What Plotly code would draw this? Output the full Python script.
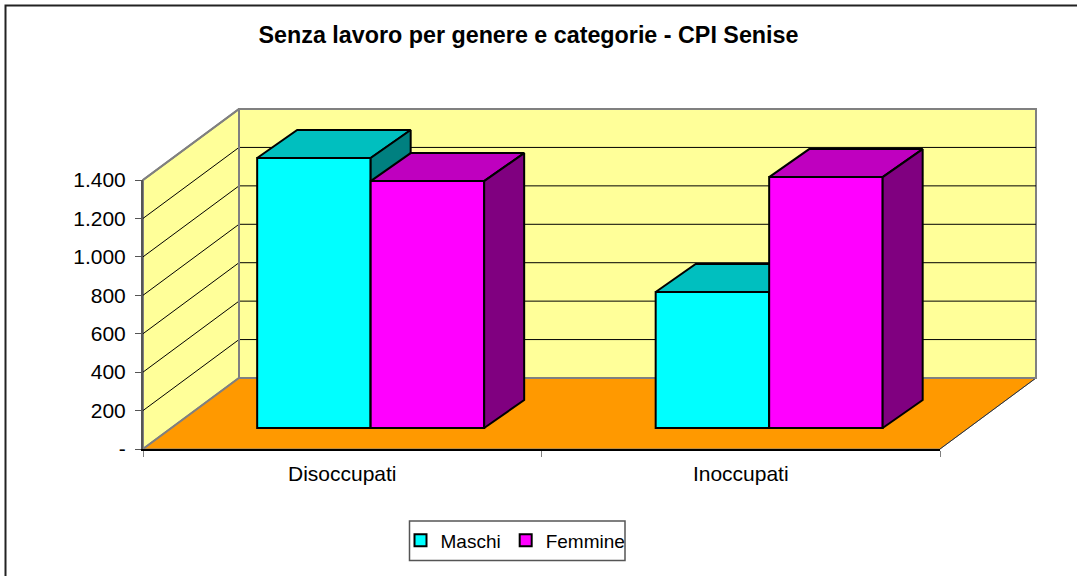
import plotly.graph_objects as go

# ---- data ----
categories = ["Disoccupati", "Inoccupati"]
maschi = [1405, 708]
femmine = [1285, 1306]
y_tick_values = [0, 200, 400, 600, 800, 1000, 1200, 1400]
y_tick_labels = ["-", "200", "400", "600", "800", "1.000", "1.200", "1.400"]
series_names = ["Maschi", "Femmine"]
title_text = "Senza lavoro per genere e categorie - CPI Senise"

# ---- styles / projection ----
W, H = 1077, 576
X0_PX, X1_PX = 143, 940      # front floor edge
Y0_PX, YT_PX = 449, 180      # value 0 and 1400 on the front-left edge
PX_PER_CAT = (X1_PX - X0_PX) / len(categories)
PX_PER_VAL = (Y0_PX - YT_PX) / 1400
XR = [-X0_PX / PX_PER_CAT, (W - X0_PX) / PX_PER_CAT]
YR = [-(H - Y0_PX) / PX_PER_VAL, Y0_PX / PX_PER_VAL]

WALL_DX, WALL_DV = 96 / PX_PER_CAT, 71 / PX_PER_VAL      # depth of the floor
BAR_SV = 21 / PX_PER_VAL                                  # bars' front offset
BAR_DX, BAR_DV = 40 / PX_PER_CAT, 28 / PX_PER_VAL        # bars' depth
BAR_W = 113.5 / PX_PER_CAT
BAR_START = 0.2865

FONT = "Liberation Sans, Arial, sans-serif"
WALL, FLOOR, EDGE = "#FFFF99", "#FF9900", "#808080"
COLORS = [("#00FFFF", "#00BFBF", "#008080"), ("#FF00FF", "#BF00BF", "#800080")]

fig = go.Figure()


def poly(xs, ys, fill, line, width, axes):
    fig.add_trace(go.Scatter(
        x=xs, y=ys, mode="lines", fill="toself" if fill else None, fillcolor=fill,
        line=dict(color=line, width=width), showlegend=False, hoverinfo="skip",
        xaxis=axes[0], yaxis=axes[1],
    ))


n = len(categories)
vmax = y_tick_values[-1]
A = ("x", "y")
# back wall, left wall, floor
poly([WALL_DX, n + WALL_DX, n + WALL_DX, WALL_DX, WALL_DX],
     [WALL_DV, WALL_DV, vmax + WALL_DV, vmax + WALL_DV, WALL_DV], WALL, EDGE, 2, A)
poly([0, WALL_DX, WALL_DX, 0, 0], [0, WALL_DV, vmax + WALL_DV, vmax, 0], WALL, EDGE, 2, A)
poly([0, n, n + WALL_DX, WALL_DX, 0], [0, 0, WALL_DV, WALL_DV, 0], FLOOR, EDGE, 1, A)
poly([n, n + WALL_DX], [0, WALL_DV], None, "#303030", 1, A)
# gridlines
for v in y_tick_values[1:-1]:
    poly([0, WALL_DX, n + WALL_DX], [v, v + WALL_DV, v + WALL_DV], None, "#000000", 1, A)
poly([0, WALL_DX, n + WALL_DX], [vmax, vmax + WALL_DV, vmax + WALL_DV], None, EDGE, 2, A)
poly([WALL_DX, WALL_DX], [WALL_DV, vmax + WALL_DV], None, EDGE, 2, A)
poly([0, WALL_DX, n + WALL_DX], [0, WALL_DV, WALL_DV], None, EDGE, 2, A)

# bars, one subplot per series so that the second sits in front of the first
for s, (name, vals) in enumerate(zip(series_names, [maschi, femmine])):
    ax = (f"x{s + 2}", f"y{s + 2}")
    front, top, side = COLORS[s]
    lefts = [i + BAR_START + s * BAR_W for i in range(n)]
    for xl, v in zip(lefts, vals):
        yb, yt = BAR_SV, BAR_SV + v
        xr = xl + BAR_W
        poly([xl, xr, xr + BAR_DX, xl + BAR_DX, xl],
             [yt, yt, yt + BAR_DV, yt + BAR_DV, yt], top, "#000000", 2, ax)
        poly([xr, xr + BAR_DX, xr + BAR_DX, xr, xr],
             [yb, yb + BAR_DV, yt + BAR_DV, yt, yb], side, "#000000", 2, ax)
    fig.add_trace(go.Bar(
        x=[xl + BAR_W / 2 for xl in lefts], y=vals, base=[BAR_SV] * n, width=[BAR_W] * n,
        name=name, marker=dict(color=front, line=dict(color="#000000", width=2)),
        hoverinfo="skip", xaxis=ax[0], yaxis=ax[1],
    ))

# real axes with ticks and labels on top
fig.add_trace(go.Scatter(x=[None], y=[None], showlegend=False, hoverinfo="skip",
                         xaxis="x4", yaxis="y4"))

hidden = dict(visible=False, fixedrange=True)
layout_axes = {}
for i in ("", "2", "3"):
    layout_axes["xaxis" + i] = dict(hidden, range=XR, domain=[0, 1], anchor="y" + i)
    layout_axes["yaxis" + i] = dict(hidden, range=YR, domain=[0, 1], anchor="x" + i)

fig.update_layout(
    **layout_axes,
    xaxis4=dict(
        domain=[X0_PX / W, X1_PX / W], range=[0, n], anchor="y4",
        tickmode="array", tickvals=[i + 0.5 for i in range(n)], ticktext=categories,
        ticks="", showgrid=False, zeroline=False, ticklabelstandoff=5,
        showline=True, linecolor="#000000", linewidth=1.5,
        minor=dict(tickmode="array", tickvals=list(range(n + 1)), ticks="outside",
                   ticklen=6, tickcolor="#808080", tickwidth=1, showgrid=False),
        tickfont=dict(family=FONT, size=21, color="#000000"),
    ),
    yaxis4=dict(
        domain=[(H - Y0_PX) / H, (H - YT_PX) / H], range=[0, vmax], anchor="x4",
        tickmode="array", tickvals=y_tick_values, ticktext=y_tick_labels,
        ticks="outside", ticklen=6, tickcolor="#555555", tickwidth=1, ticklabelstandoff=5,
        showgrid=False, zeroline=False, showline=True, linecolor="#555555", linewidth=2,
        tickfont=dict(family=FONT, size=21, color="#000000"),
    ),
    barmode="overlay",
    width=W, height=H, autosize=False,
    margin=dict(l=0, r=0, t=0, b=0, autoexpand=False),
    paper_bgcolor="#FFFFFF", plot_bgcolor="rgba(0,0,0,0)",
    title=dict(text=f"<b>{title_text}</b>", x=528.5 / W, y=1 - 35 / H,
               xanchor="center", yanchor="middle",
               font=dict(family=FONT, size=23.3, color="#000000")),
    legend=dict(orientation="h", x=400.5 / W, y=1 - 540.5 / H, xanchor="left", yanchor="middle",
                bgcolor="rgba(0,0,0,0)", borderwidth=0,
                font=dict(family=FONT, size=19, color="#000000"),
                itemclick=False, itemdoubleclick=False, traceorder="normal"),
    shapes=[
        dict(type="path", xref="paper", yref="paper", layer="above",
             path=f"M {5.5 / W},0 L {5.5 / W},{1 - 5.5 / H} L 1,{1 - 5.5 / H}",
             line=dict(color="#222222", width=2)),
        dict(type="rect", xref="paper", yref="paper", layer="above",
             x0=409.5 / W, x1=625 / W, y0=1 - 560.5 / H, y1=1 - 521 / H,
             fillcolor="#FFFFFF", line=dict(color="#555555", width=1.5)),
    ],
    showlegend=True,
)

fig.write_html("out.html", config={"displayModeBar": False},
               post_script="document.body.style.margin='0';document.documentElement.style.overflow='hidden';")
